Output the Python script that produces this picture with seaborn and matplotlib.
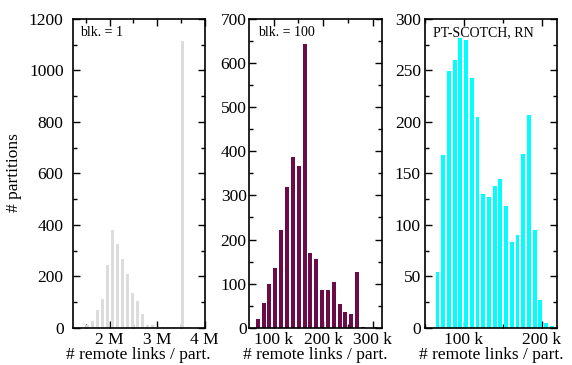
import numpy as np
import pandas as pd
import matplotlib
matplotlib.use("Agg")
import matplotlib.pyplot as plt
import seaborn as sns
from matplotlib.ticker import MultipleLocator, FuncFormatter

# blk. = 1  (bin centres in M, counts)
x_blk1 = [1.53, 1.635, 1.74, 1.845, 1.95, 2.055, 2.16, 2.265, 2.37, 2.475, 2.58,
          2.685, 2.79, 2.895, 3.0, 3.105, 3.21, 3.315, 3.42, 3.525, 3.63]
y_blk1 = [12, 26, 68, 110, 243, 381, 326, 268, 209, 135, 103,
          53, 9, 9, 3, 3, 3, 3, 0, 1115, 2]

# blk. = 100  (bin centres in k)
x_blk100 = [68.0, 79.8, 91.6, 103.4, 115.2, 127.0, 138.8, 150.6, 162.4, 174.2, 186.0,
            197.8, 209.6, 221.4, 233.2, 245.0, 256.8, 268.6, 280.4, 292.2, 304.0]
y_blk100 = [20, 56, 100, 136, 221, 320, 388, 366, 643, 169, 156,
            85, 85, 104, 54, 36, 32, 127, 2, 0, 2]

# PT-SCOTCH, RN  (bin centres in k)
x_scotch = [66.1, 73.45, 80.8, 88.15, 95.5, 102.85, 110.2, 117.55, 124.9, 132.25, 139.6,
            146.95, 154.3, 161.65, 169.0, 176.35, 183.7, 191.05, 198.4, 205.75, 213.1]
y_scotch = [54, 168, 249, 260, 282, 280, 243, 205, 130, 127, 138,
            145, 118, 83, 90, 169, 207, 95, 27, 5, 1.5]

sns.set_theme(style="ticks")
plt.rcParams["font.family"] = ["Liberation Serif", "DejaVu Serif"]
plt.rcParams["font.size"] = 12.5

fig = plt.figure(figsize=(5.72, 3.65), dpi=100)

panels = [
    dict(x=np.array(x_blk1) * 1e6, y=y_blk1, color="#dcdcdc", label="blk. = 1",
         rect=[0.127, 0.102, 0.231, 0.846], xlim=(1.22e6, 4.0e6), ylim=(0, 1200),
         xmaj=1e6, xmin=5e5, ymaj=200, ymin=100, unit=1e6, suf="M", ypad=6.5, tx=0.055),
    dict(x=np.array(x_blk100) * 1e3, y=y_blk100, color="#6b0b47", label="blk. = 100",
         rect=[0.436, 0.102, 0.231, 0.846], xlim=(51e3, 318e3), ylim=(0, 700),
         xmaj=1e5, xmin=5e4, ymaj=100, ymin=50, unit=1e3, suf="k", ypad=2, tx=0.064),
    dict(x=np.array(x_scotch) * 1e3, y=y_scotch, color="#00ffff", label="PT-SCOTCH, RN",
         rect=[0.743, 0.102, 0.231, 0.846], xlim=(50e3, 220e3), ylim=(0, 300),
         xmaj=1e5, xmin=5e4, ymaj=50, ymin=25, unit=1e3, suf="k", ypad=3, tx=0.058),
]

for p in panels:
    ax = fig.add_axes(p["rect"])
    df = pd.DataFrame({"x": p["x"], "y": p["y"]})
    sns.barplot(data=df, x="x", y="y", native_scale=True, color=p["color"],
                saturation=1, width=0.68, errorbar=None, linewidth=0, ax=ax)
    ax.set_xlim(*p["xlim"])
    ax.set_ylim(*p["ylim"])
    ax.xaxis.set_major_locator(MultipleLocator(p["xmaj"]))
    ax.xaxis.set_minor_locator(MultipleLocator(p["xmin"]))
    ax.yaxis.set_major_locator(MultipleLocator(p["ymaj"]))
    ax.yaxis.set_minor_locator(MultipleLocator(p["ymin"]))
    u, s = p["unit"], p["suf"]
    ax.xaxis.set_major_formatter(FuncFormatter(lambda v, pos, u=u, s=s: f"{v / u:.0f} {s}"))
    ax.tick_params(which="both", direction="in", top=True, right=True,
                   color="black", width=1.0, labelsize=12.5, labelcolor="black")
    ax.tick_params(which="major", length=5)
    ax.tick_params(which="minor", length=3)
    ax.tick_params(axis="y", which="major", pad=p["ypad"])
    ax.tick_params(axis="x", which="major", pad=3)
    for sp in ax.spines.values():
        sp.set_visible(True)
        sp.set_color("black")
        sp.set_linewidth(1.2)
    ax.set_xlabel("# remote links / part.", fontsize=12.5, labelpad=-0.5, color="black")
    ax.set_ylabel("")
    ax.text(p["tx"], 0.955, p["label"], transform=ax.transAxes, fontsize=10,
            ha="left", va="center", color="black")

fig.text(14 / 572, 1 - 173 / 365, "# partitions", rotation=90, ha="center",
         va="center", fontsize=12.5, color="black")

fig.savefig("out.png", dpi=100)
